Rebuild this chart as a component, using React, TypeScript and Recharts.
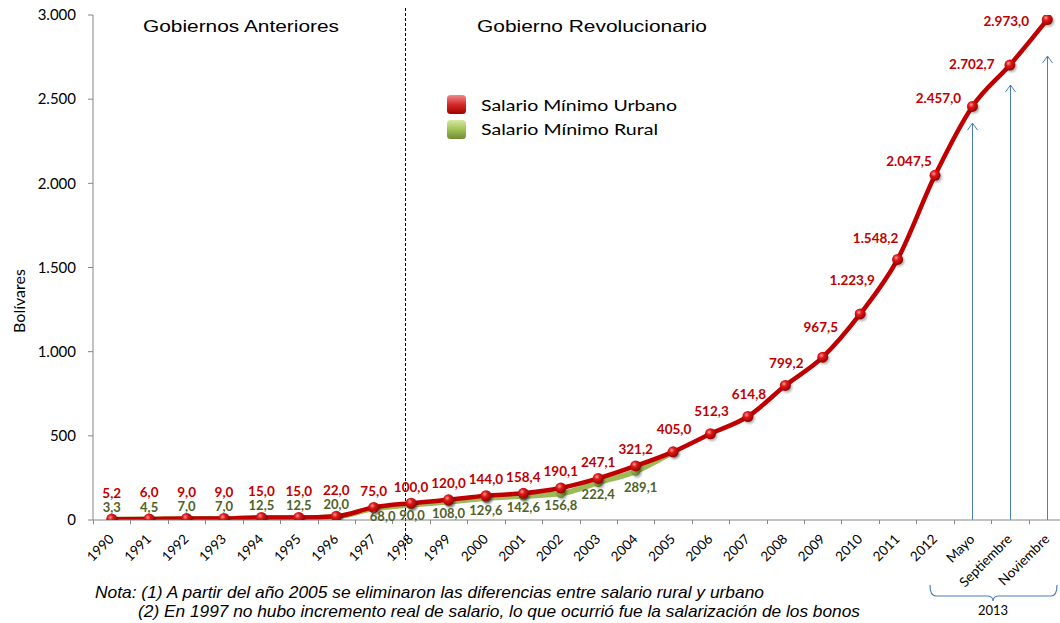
import React from 'react';
import { LineChart, Line, XAxis, YAxis, ReferenceLine, LabelList } from 'recharts';

const categories = ['1990','1991','1992','1993','1994','1995','1996','1997','1998','1999','2000','2001','2002','2003','2004','2005','2006','2007','2008','2009','2010','2011','2012','Mayo','Septiembre','Noviembre'];
const urbanValues = [5.2, 6.0, 9.0, 9.0, 15.0, 15.0, 22.0, 75.0, 100.0, 120.0, 144.0, 158.4, 190.1, 247.1, 321.2, 405.0, 512.3, 614.8, 799.2, 967.5, 1223.9, 1548.2, 2047.5, 2457.0, 2702.7, 2973.0];
const ruralValues: (number | null)[] = [3.3, 4.5, 7.0, 7.0, 12.5, 12.5, 20.0, 68.0, 90.0, 108.0, 129.6, 142.6, 156.8, 222.4, 289.1, 405.0, null, null, null, null, null, null, null, null, null, null];
const ruralLabelCount = 15;
const yTicks = [0, 500, 1000, 1500, 2000, 2500, 3000];
const arrowCategories = ['Mayo', 'Septiembre', 'Noviembre'];
const arrowTips = [2358, 2584, 2756];
const dividerCategory = '1998';
const seriesNames = ['Salario Mínimo Urbano', 'Salario Mínimo Rural'];
const periodTitles = ['Gobiernos Anteriores', 'Gobierno Revolucionario'];
const notes = [
  'Nota: (1) A partir del año 2005 se eliminaron las diferencias entre salario rural y urbano',
  '(2) En 1997 no hubo incremento real de salario, lo que ocurrió fue la salarización de los bonos',
];
const bracketLabel = '2013';
const yAxisTitle = 'Bolívares';

const data = categories.map((cat, i) => ({ cat, urban: urbanValues[i], rural: ruralValues[i] }));

const CHART_W = 1066;
const CHART_H = 623;
const MARGIN = { top: 15, right: 0, left: 10, bottom: 43 };
const Y_W = 83;
const X_H = 60;
const BAND = (CHART_W - MARGIN.left - MARGIN.right - Y_W) / categories.length;

const RED = '#C00000';
const GREEN = '#9BBB59';
const DARKGREEN = '#4F6228';
const BLUE = '#4A7EBB';
const AXIS = '#868686';
const FONT = 'Lato, "Open Sans", sans-serif';

const fmt = (v: number) => {
  const [i, d] = v.toFixed(1).split('.');
  return i.replace(/\B(?=(\d{3})+(?!\d))/g, '.') + ',' + d;
};
const fmtTick = (v: number) => String(v).replace(/\B(?=(\d{3})+(?!\d))/g, '.');

const urbanShift = (i: number): [number, number] => {
  if (i <= 6) return [0, -26];
  if (i <= 14) return [0, -16];
  if (i <= 18) return [1, -22];
  if (i === 19) return [-2, -30];
  if (i === 20) return [-8, -33];
  const left: [number, number][] = [[-22, -21], [-26, -14], [-34, -8], [-38, -1], [-41, 2]];
  return left[i - 21] || [0, -16];
};
const ruralShift = (i: number): [number, number] => {
  if (i <= 6) return [0, -12];
  if (i === 7) return [9, 8];
  if (i === 8) return [1, 11];
  if (i === 14) return [5, 16];
  return [0, 12];
};

const UrbanLabel = (props: any) => {
  const { x, y, value, index } = props;
  if (value == null || x == null) return null;
  const [dx, dy] = urbanShift(index);
  return (
    <text x={x + dx} y={y + dy + 4.5} textAnchor="middle" fill={RED} fontSize={13.5} fontWeight={700} fontFamily={FONT}>
      {fmt(value)}
    </text>
  );
};
const RuralLabel = (props: any) => {
  const { x, y, value, index } = props;
  if (value == null || x == null || index >= ruralLabelCount) return null;
  const [dx, dy] = ruralShift(index);
  return (
    <text x={x + dx} y={y + dy + 4.5} textAnchor="middle" fill={DARKGREEN} fontSize={13} fontWeight={700} fontFamily={FONT}>
      {fmt(value)}
    </text>
  );
};

const makeDot = (grad: string, r: number) => (props: any) => {
  const { cx, cy, index, value } = props;
  if (cx == null || cy == null || value == null) return <g key={`d${index}`} />;
  return (
    <g key={`d${grad}${index}`}>
      <circle cx={cx + 1.5} cy={cy + 1.8} r={r} fill="#000" opacity={0.3} filter="url(#dotBlur)" />
      <circle cx={cx} cy={cy} r={r} fill={`url(#${grad})`} />
    </g>
  );
};

const XTick = (props: any) => {
  const { x, y, payload } = props;
  const bx = Math.round(x - BAND / 2) + 0.5;
  return (
    <g>
      <line x1={bx} y1={y} x2={bx} y2={y + 4} stroke={AXIS} />
      <text x={x + 3} y={y + 20} textAnchor="end" transform={`rotate(-45, ${x + 3}, ${y + 20})`} fontSize={13.5} fontFamily={FONT} fill="#000">
        {payload.value}
      </text>
    </g>
  );
};

const Arrow = (props: any) => {
  const { x1, y1, y2 } = props;
  const top = Math.min(y1, y2);
  const bot = Math.max(y1, y2);
  const ax = Math.round(x1) + 0.5;
  return (
    <g>
      <line x1={ax} y1={bot} x2={ax} y2={top} stroke={BLUE} strokeWidth={1} />
      <polyline points={`${ax - 5},${top + 7} ${ax},${top} ${ax + 5},${top + 7}`} fill="none" stroke={BLUE} strokeWidth={1} />
    </g>
  );
};

const Divider = (props: any) => {
  const { x1, y1, y2 } = props;
  const top = Math.min(y1, y2);
  const bot = Math.max(y1, y2);
  const dx = Math.round(x1 - 6) + 0.5;
  return <line x1={dx} y1={top - 7} x2={dx} y2={bot + 40} stroke="#000" strokeWidth={1} strokeDasharray="3 2" />;
};

export default function App() {
  return (
    <div style={{ position: 'absolute', left: 0, top: 0, width: 1060, height: 623, overflow: 'hidden', background: '#fff' }}>
      <LineChart width={CHART_W} height={CHART_H} data={data} margin={MARGIN}>
        <defs>
          <radialGradient id="redBall" cx="0.38" cy="0.35" r="0.7">
            <stop offset="0" stopColor="#FF9A9A" />
            <stop offset="0.35" stopColor="#E01818" />
            <stop offset="1" stopColor="#8E0000" />
          </radialGradient>
          <radialGradient id="greenBall" cx="0.38" cy="0.35" r="0.7">
            <stop offset="0" stopColor="#DDF0A8" />
            <stop offset="0.4" stopColor="#9BBB59" />
            <stop offset="1" stopColor="#5E7A26" />
          </radialGradient>
          <filter id="dotBlur" x="-50%" y="-50%" width="200%" height="200%">
            <feGaussianBlur stdDeviation="1.2" />
          </filter>
        </defs>
        <XAxis dataKey="cat" scale="band" height={X_H} tickSize={0} tickMargin={0} tickLine={false} interval={0} axisLine={{ stroke: AXIS }} tick={<XTick />} />
        <YAxis width={Y_W} domain={[0, 3000]} ticks={yTicks} tickFormatter={fmtTick} tickSize={5} tickMargin={12} axisLine={{ stroke: AXIS }} tickLine={{ stroke: AXIS }} tick={{ fontSize: 15, fontFamily: FONT, fill: '#000' }} allowDataOverflow />
        <ReferenceLine x={dividerCategory} stroke="#000" shape={<Divider />} ifOverflow="visible" />
        {arrowCategories.map((c, i) => (
          <ReferenceLine key={c} segment={[{ x: c, y: 0 }, { x: c, y: arrowTips[i] }]} stroke={BLUE} shape={<Arrow />} ifOverflow="visible" />
        ))}
        <Line dataKey="rural" name={seriesNames[1]} type="monotone" stroke={GREEN} strokeWidth={5.5} dot={makeDot('greenBall', 4.5)} activeDot={false} isAnimationActive={false} connectNulls={false}>
          <LabelList dataKey="rural" content={<RuralLabel />} />
        </Line>
        <Line dataKey="urban" name={seriesNames[0]} type="monotone" stroke={RED} strokeWidth={4.5} dot={makeDot('redBall', 5.5)} activeDot={false} isAnimationActive={false}>
          <LabelList dataKey="urban" content={<UrbanLabel />} />
        </Line>
      </LineChart>
      <svg width={1060} height={623} style={{ position: 'absolute', left: 0, top: 0, pointerEvents: 'none' }}>
        <defs>
          <linearGradient id="legRed" x1="0" y1="0" x2="0" y2="1">
            <stop offset="0" stopColor="#F08A8A" />
            <stop offset="0.5" stopColor="#D42A2A" />
            <stop offset="1" stopColor="#A00000" />
          </linearGradient>
          <linearGradient id="legGreen" x1="0" y1="0" x2="0" y2="1">
            <stop offset="0" stopColor="#D4E8A0" />
            <stop offset="0.5" stopColor="#A3C257" />
            <stop offset="1" stopColor="#6E8C30" />
          </linearGradient>
        </defs>
        <rect x={447} y={95} width={19} height={19} rx={3.5} fill="url(#legRed)" />
        <rect x={447} y={120} width={19} height={19} rx={3.5} fill="url(#legGreen)" />
        <text x={481} y={111} fontSize={16} fontFamily={FONT} fill="#000" textLength={196} lengthAdjust="spacingAndGlyphs">{seriesNames[0]}</text>
        <text x={481} y={135} fontSize={16} fontFamily={FONT} fill="#000" textLength={177} lengthAdjust="spacingAndGlyphs">{seriesNames[1]}</text>
        <text x={143} y={31.5} fontSize={16.5} fontFamily='"Liberation Sans", Arial, sans-serif' fill="#000" textLength={196} lengthAdjust="spacingAndGlyphs">{periodTitles[0]}</text>
        <text x={477} y={31.5} fontSize={16.5} fontFamily='"Liberation Sans", Arial, sans-serif' fill="#000" textLength={230} lengthAdjust="spacingAndGlyphs">{periodTitles[1]}</text>
        <text x={18} y={301} transform="rotate(-90, 18, 301)" textAnchor="middle" dominantBaseline="central" fontSize={16} fontFamily={FONT} fill="#000">{yAxisTitle}</text>
        <text x={95} y={598} fontSize={16.5} fontStyle="italic" fontFamily='"Liberation Sans", Arial, sans-serif' fill="#000" textLength={669} lengthAdjust="spacingAndGlyphs">{notes[0]}</text>
        <text x={138} y={617} fontSize={16.5} fontStyle="italic" fontFamily='"Liberation Sans", Arial, sans-serif' fill="#000" textLength={722} lengthAdjust="spacingAndGlyphs">{notes[1]}</text>
        <path d="M930,585 Q930,596 936,596 L987,596 Q993,596 993,601 Q993,596 999,596 L1051,596 Q1057,596 1057,585" fill="none" stroke={BLUE} strokeWidth={1.2} />
        <text x={993} y={615} textAnchor="middle" fontSize={13} fontFamily={FONT} fill="#000">{bracketLabel}</text>
      </svg>
    </div>
  );
}
